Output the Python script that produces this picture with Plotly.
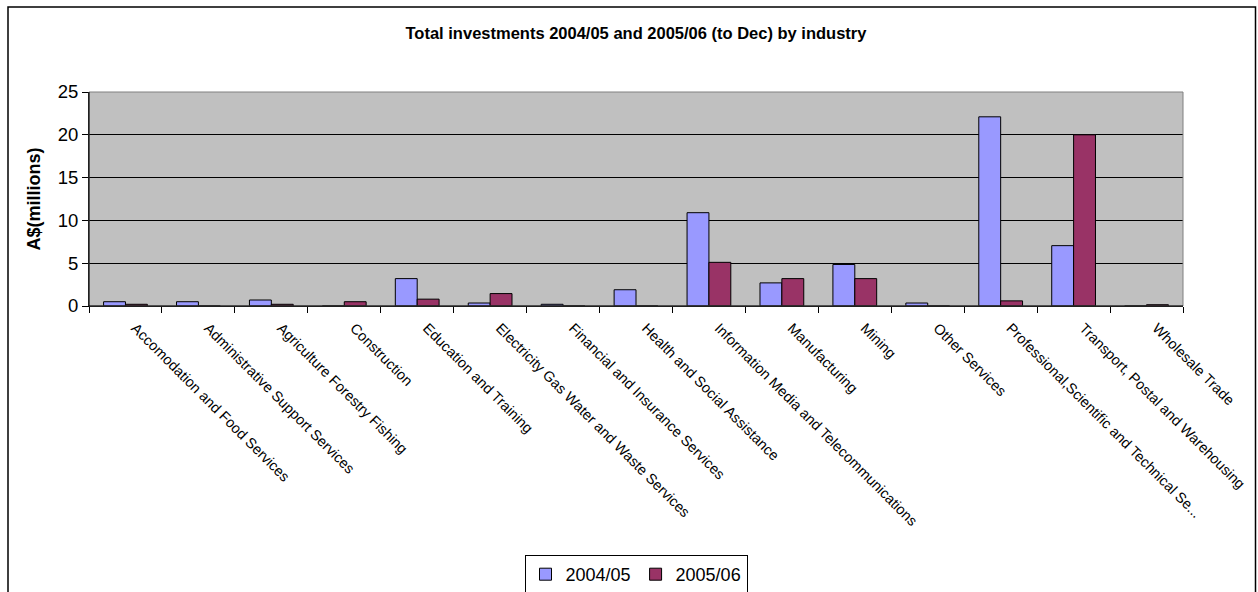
import plotly.graph_objects as go

categories = [
    "Accomodation and Food Services",
    "Administrative Support Services",
    "Agriculture Forestry Fishing",
    "Construction",
    "Education and Training",
    "Electricity Gas Water and Waste Services",
    "Financial and Insurance Services",
    "Health and Social Assistance",
    "Information Media and Telecommunications",
    "Manufacturing",
    "Mining",
    "Other Services",
    "Professional,Scientific and Technical Se...",
    "Transport, Postal and Warehousing",
    "Wholesale Trade",
]
values_2004_05 = [0.5, 0.5, 0.7, 0.0, 3.2, 0.35, 0.2, 1.9, 10.9, 2.7, 4.85, 0.35, 22.1, 7.05, 0.0]
values_2005_06 = [0.2, 0.0, 0.2, 0.5, 0.8, 1.45, 0.0, 0.0, 5.1, 3.2, 3.2, 0.0, 0.6, 20.0, 0.15]
y_ticks = [0, 5, 10, 15, 20, 25]

FONT = "Arial, Liberation Sans, sans-serif"

fig = go.Figure()
fig.add_trace(go.Bar(name="2004/05", x=categories, y=values_2004_05,
                     marker=dict(color="#9999FF", line=dict(color="black", width=1))))
fig.add_trace(go.Bar(name="2005/06", x=categories, y=values_2005_06,
                     marker=dict(color="#993366", line=dict(color="black", width=1))))

W, H = 1258, 592
L, R, T, B = 89, 75, 92, 286
pw, ph = W - L - R, H - T - B

def px_to_paper_x(px):
    return (px - L) / pw

def px_to_paper_y(py):
    return (H - B - py) / ph

fig.update_layout(
    width=W, height=H,
    margin=dict(l=L, r=R, t=T, b=B, autoexpand=False),
    paper_bgcolor="white",
    plot_bgcolor="#C0C0C0",
    barmode="group",
    bargap=0.4,
    bargroupgap=0,
    font=dict(family=FONT, color="black"),
    title=dict(text="<b>Total investments 2004/05 and 2005/06 (to Dec) by industry</b>",
               x=0.5, xref="paper", xanchor="center",
               y=1 - 33 / H, yref="container", yanchor="middle",
               font=dict(size=16.5, family=FONT, color="black")),
    xaxis=dict(tickangle=45, tickfont=dict(size=14.5, family=FONT),
               ticks="outside", ticklen=6, tickcolor="black", tickson="boundaries",
               ticklabelstandoff=7, ticklabelshift=10,
               showline=True, linecolor="black", linewidth=1,
               showgrid=False, automargin=False),
    yaxis=dict(range=[0, 25], tickvals=y_ticks, tickfont=dict(size=18.5, family=FONT),
               ticks="outside", ticklen=6, tickcolor="black",
               showline=True, linecolor="black", linewidth=1,
               showgrid=True, gridcolor="black", gridwidth=1, zeroline=False,
               title=dict(text="<b>A$(millions)</b>", font=dict(size=18, family=FONT), standoff=12),
               automargin=False),
    legend=dict(orientation="h", x=0.5, xanchor="center",
                y=px_to_paper_y(555), yanchor="top",
                font=dict(size=18, family=FONT),
                bordercolor="black", borderwidth=1, bgcolor="white",
                itemwidth=30, traceorder="normal", entrywidth=0),
    showlegend=True,
)

# plot-area frame (gray) and outer chart border (black)
fig.add_shape(type="rect", xref="paper", yref="paper", x0=0, x1=1, y0=0, y1=1,
              line=dict(color="#808080", width=1), layer="above")
fig.add_shape(type="line", xref="paper", yref="paper", x0=0, x1=1, y0=0, y1=0,
              line=dict(color="black", width=1), layer="above")
fig.add_shape(type="line", xref="paper", yref="paper", x0=0, x1=0, y0=0, y1=1,
              line=dict(color="black", width=1), layer="above")
fig.add_shape(type="rect", xref="paper", yref="paper",
              x0=px_to_paper_x(8), x1=px_to_paper_x(1255.5),
              y0=px_to_paper_y(600), y1=px_to_paper_y(7),
              line=dict(color="black", width=1.5), layer="above")

fig.write_html("out.html")
